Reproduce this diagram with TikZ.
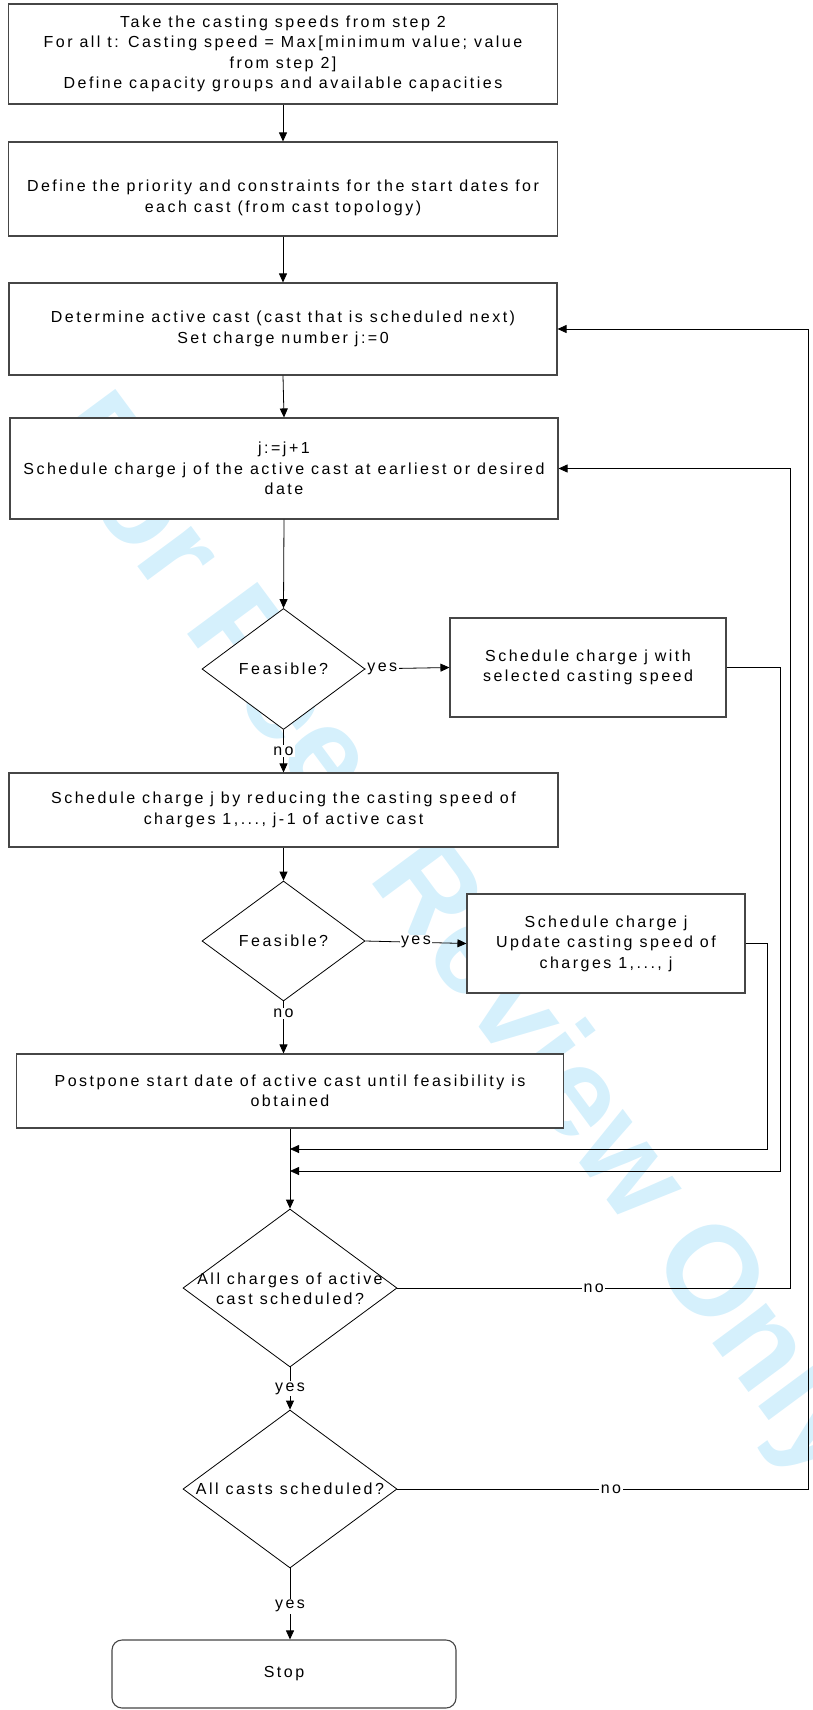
\documentclass[tikz,border=0pt]{standalone}
\usepackage{fontspec}
\setmainfont{Liberation Sans}[LetterSpace=15.5]
\newfontfamily\wmfont{Liberation Sans}[BoldFont={* Bold}]
\usetikzlibrary{shapes.geometric,arrows.meta}
\definecolor{wmblue}{RGB}{213,240,252}
\definecolor{boxline}{RGB}{70,70,70}
\tikzset{
  every node/.style={font=\fontsize{16}{20.5}\selectfont},
  box/.style={draw=boxline, fill=white, line width=1.1pt, rectangle, align=center, inner sep=0pt},
  dec/.style={draw=black, fill=white, line width=0.8pt, diamond, inner sep=0pt},
  conn/.style={draw=black, line width=0.8pt},
  arr/.style={conn, -{Triangle[length=9pt,width=8pt]}},
  lbl/.style={fill=white, inner sep=1.5pt},
}
\begin{document}
\begin{tikzpicture}[x=1pt,y=-1pt]
\useasboundingbox (0,0) rectangle (812,1710);
% watermark
\node[font=\wmfont\bfseries\fontsize{127}{127}\selectfont, text=wmblue, rotate=-53.5, inner sep=0pt] (wm) at (455,940) {For Peer Review Only};
% boxes
\node[box, minimum width=549pt, minimum height=100pt] (B1) at (283,54)
  {Take the casting speeds from step 2\\For all t: Casting speed = Max[minimum value; value\\from step 2]\\Define capacity groups and available capacities};
\node[box, minimum width=549pt, minimum height=94pt] (B2) at (283,189) {};
\node[align=center] (B2t) at (283,198) {Define the priority and constraints for the start dates for\\each cast (from cast topology)};
\node[box, minimum width=548pt, minimum height=92pt] (B3) at (283,329)
  {Determine active cast (cast that is scheduled next)\\Set charge number j:=0};
\node[box, minimum width=548pt, minimum height=101pt] (B4) at (284,468.5)
  {j:=j+1\\Schedule charge j of the active cast at earliest or desired\\date};
\node[dec, minimum width=163pt, minimum height=121pt] (D1) at (283.5,669) {};
\node (D1t) at (283.5,669) {Feasible?};
\node[box, minimum width=276pt, minimum height=99pt] (B5) at (588,667.5)
  {Schedule charge j with\\selected casting speed};
\node[box, minimum width=549pt, minimum height=74pt] (B6) at (283.5,810)
  {Schedule charge j by reducing the casting speed of\\charges 1,..., j-1 of active cast};
\node[dec, minimum width=163pt, minimum height=120pt] (D2) at (283.5,941) {};
\node (D2t) at (283.5,941) {Feasible?};
\node[box, minimum width=278pt, minimum height=99pt] (B7) at (606,943.5)
  {Schedule charge j\\Update casting speed of\\charges 1,..., j};
\node[box, minimum width=547pt, minimum height=74pt] (B8) at (290,1091)
  {Postpone start date of active cast until feasibility is\\obtained};
\node[dec, minimum width=214pt, minimum height=158pt] (D3) at (290,1288) {};
\node[align=center] (D3t) at (290,1289) {All charges of active\\cast scheduled?};
\node[dec, minimum width=214pt, minimum height=158pt] (D4) at (290,1489) {};
\node (D4t) at (290,1489) {All casts scheduled?};
\node[box, rounded corners=10pt, minimum width=344pt, minimum height=68pt] (S) at (284,1674) {Stop};
% junction points
\coordinate (j1) at (290,1149);
\coordinate (j2) at (290,1171);
% connectors
\draw[arr] (B1.south) -- (B2.north);
\draw[arr] (B2.south) -- (B3.north);
\draw[arr] (B3.south) -- (B4.north);
\draw[arr] (B4.south) -- (D1.north);
\draw[arr] (D1.east) -- node[lbl, pos=0, anchor=west] {yes} (B5.west);
\draw[arr] (D1.south) -- node[lbl] {no} (B6.north);
\draw[arr] (B5.east) -- ++(54,0) |- (j2);
\draw[arr] (B6.south) -- (D2.north);
\draw[arr] (D2.east) -- node[lbl] {yes} (B7.west);
\draw[arr] (D2.south) -- node[lbl, pos=0.23] {no} (D2.south |- B8.north);
\draw[arr] (B7.east) -- ++(22,0) |- (j1);
\draw[arr] (B8.south) -- (D3.north);
\draw[arr] (D3.east) -- node[lbl] {no} (790,1288) |- (B4.east);
\draw[arr] (D3.south) -- node[lbl] {yes} (D4.north);
\draw[arr] (D4.east) -- node[lbl, pos=0.52] {no} (808,1489) |- (B3.east);
\draw[arr] (D4.south) -- node[lbl, pos=0.53] {yes} (D4.south |- S.north);
\end{tikzpicture}
\end{document}
